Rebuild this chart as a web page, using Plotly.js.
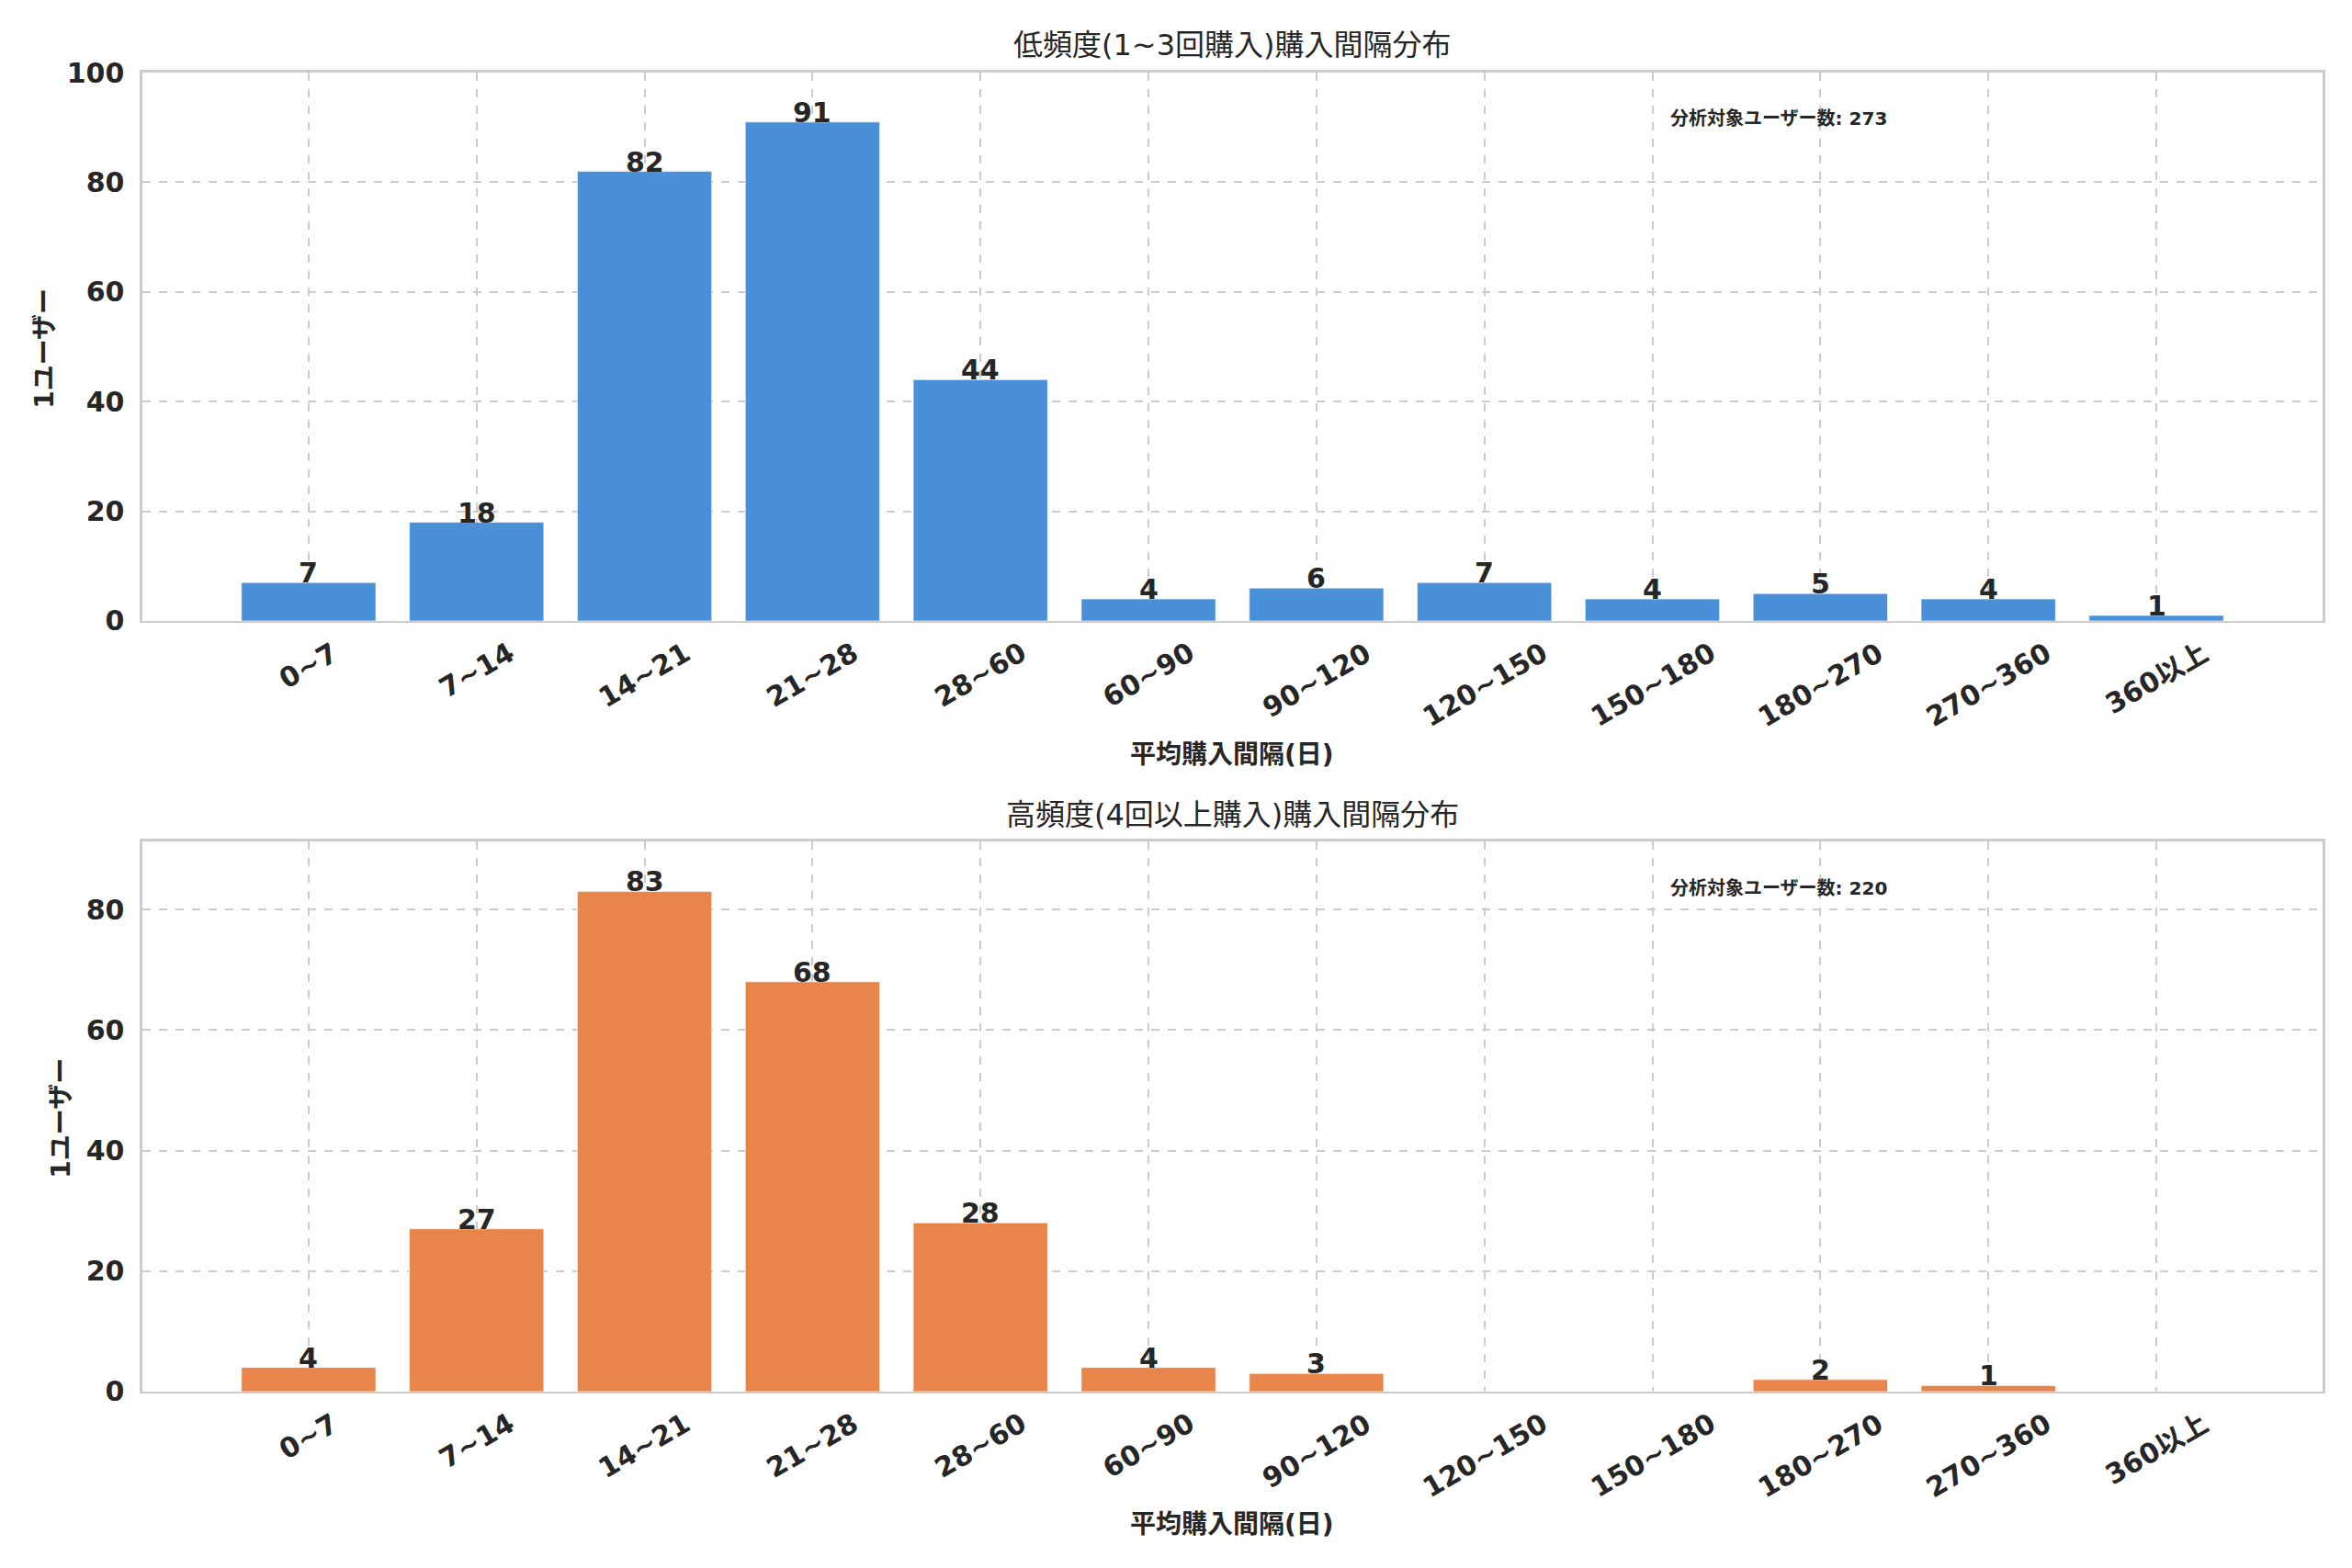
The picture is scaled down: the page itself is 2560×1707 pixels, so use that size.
<!DOCTYPE html>
<html lang="ja">
<head>
<meta charset="utf-8">
<title>購入間隔分布</title>
<script src="https://cdn.plot.ly/plotly-3.0.1.min.js"></script>
<style>
  html, body { margin: 0; padding: 0; background: #ffffff; }
  #chart { width: 2560px; height: 1707px; }
</style>
</head>
<body>
<div id="chart"></div>
<script>
// bins and counts
const intervalBins = ["0~7", "7~14", "14~21", "21~28", "28~60", "60~90", "90~120",
  "120~150", "150~180", "180~270", "270~360", "360以上"];
const lightCounts = [7, 18, 82, 91, 44, 4, 6, 7, 4, 5, 4, 1];
const heavyCounts = [4, 27, 83, 68, 28, 4, 3, 0, 0, 2, 1, 0];

const lightTitle = "低頻度(1~3回購入)購入間隔分布";
const heavyTitle = "高頻度(4回以上購入)購入間隔分布";
const xTitle = "平均購入間隔(日)";
const yTitle = "1ユーザー";
const totalLabel = "分析対象ユーザー数";

const THEME = {
  ink: "#262626",
  blue: "#4a90d9",
  orange: "#e8854a",
  grid: "#cccccc",
  frame: "#cccccc",
  fontFamily: "\"DejaVu Sans\", \"Noto Sans CJK JP\", sans-serif",
};

const BOLD = { family: THEME.fontFamily, size: 30, color: THEME.ink, weight: "bold" };
const binPos = intervalBins.map((_, i) => i);
const sum = (arr) => arr.reduce((a, b) => a + b, 0);

function barTrace(values, color, xa, ya) {
  return {
    type: "bar",
    x: binPos,
    y: values,
    xaxis: xa,
    yaxis: ya,
    width: 0.8,
    marker: { color, line: { color: "rgba(255,255,255,0.6)", width: 1 } },
    hoverinfo: "x+y",
    showlegend: false,
  };
}

function xAxis(domain, anchor) {
  return {
    domain,
    anchor,
    range: [-0.99, 11.99],
    tickmode: "array",
    tickvals: binPos,
    showticklabels: false,
    ticks: "",
    showgrid: true,
    gridcolor: THEME.grid,
    gridwidth: 2,
    griddash: "dash",
    showline: true,
    linecolor: THEME.frame,
    linewidth: 2.5,
    mirror: true,
    zeroline: false,
  };
}

function yAxis(domain, anchor, top) {
  return {
    domain,
    anchor,
    range: [0, top],
    tickvals: [0, 20, 40, 60, 80, 100],
    ticks: "",
    ticklabelstandoff: 11,
    tickfont: BOLD,
    showgrid: true,
    gridcolor: THEME.grid,
    gridwidth: 2,
    griddash: "dash",
    showline: true,
    linecolor: THEME.frame,
    linewidth: 2.5,
    mirror: true,
    zeroline: false,
  };
}

// rotated category labels, centred under each bar like matplotlib rotation=30
function binLabels(xa, ya) {
  return intervalBins.map((label, i) => ({
    text: label,
    x: i,
    y: -0.023,
    xref: xa,
    yref: ya + " domain",
    xanchor: "center",
    yanchor: "top",
    textangle: -30,
    showarrow: false,
    font: BOLD,
  }));
}

function valueLabels(values, xa, ya) {
  return values
    .map((v, i) => ({ v, i }))
    .filter((d) => d.v > 0)
    .map((d) => ({
      text: String(d.v),
      x: d.i,
      y: d.v,
      xref: xa,
      yref: ya,
      xanchor: "center",
      yanchor: "bottom",
      yshift: -9,
      showarrow: false,
      font: BOLD,
    }));
}

function textNote(text, x, y, opts = {}) {
  return {
    text,
    x,
    y,
    xref: "paper",
    yref: "paper",
    xanchor: "center",
    yanchor: "middle",
    showarrow: false,
    font: { family: THEME.fontFamily, size: 28, color: THEME.ink, weight: "bold" },
    ...opts,
  };
}

const traces = [
  barTrace(lightCounts, THEME.blue, "x", "y"),
  barTrace(heavyCounts, THEME.orange, "x2", "y2"),
];

const titleFont = { family: THEME.fontFamily, size: 32, color: THEME.ink };
const noteFont = { family: THEME.fontFamily, size: 20, color: THEME.ink, weight: "bold" };

const layout = {
  width: 2560,
  height: 1707,
  margin: { l: 0, r: 0, t: 0, b: 0 },
  paper_bgcolor: "#ffffff",
  plot_bgcolor: "#ffffff",
  font: { family: THEME.fontFamily, color: THEME.ink },
  xaxis: xAxis([0.0605, 0.9875], "y"),
  yaxis: yAxis([0.604, 0.954], "x", Math.max(...lightCounts) * 1.1),
  xaxis2: xAxis([0.0605, 0.9875], "y2"),
  yaxis2: yAxis([0.1125, 0.4634], "x2", Math.max(...heavyCounts) * 1.1),
  annotations: [
    ...binLabels("x", "y"),
    ...binLabels("x2", "y2"),
    ...valueLabels(lightCounts, "x", "y"),
    ...valueLabels(heavyCounts, "x2", "y2"),
    textNote(lightTitle, 0.524, 0.9713, { font: titleFont }),
    textNote(heavyTitle, 0.524, 0.4804, { font: titleFont }),
    textNote(xTitle, 0.524, 0.519),
    textNote(xTitle, 0.524, 0.028),
    textNote(yTitle, 0.0191, 0.778, { textangle: -90 }),
    textNote(yTitle, 0.026, 0.287, { textangle: -90 }),
    {
      text: totalLabel + ": " + sum(lightCounts),
      x: 0.70, y: 0.915, xref: "x domain", yref: "y domain",
      xanchor: "left", yanchor: "middle", showarrow: false, font: noteFont,
    },
    {
      text: totalLabel + ": " + sum(heavyCounts),
      x: 0.70, y: 0.915, xref: "x2 domain", yref: "y2 domain",
      xanchor: "left", yanchor: "middle", showarrow: false, font: noteFont,
    },
  ],
};

Plotly.newPlot("chart", traces, layout, { displayModeBar: false, staticPlot: true });
</script>
</body>
</html>
